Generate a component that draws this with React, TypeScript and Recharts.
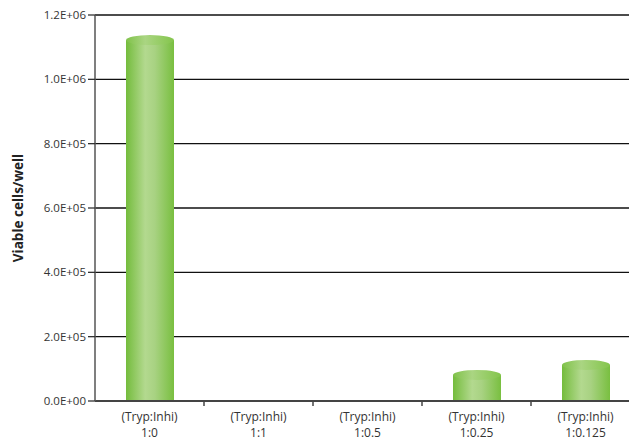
import { Bar, BarChart, CartesianGrid, XAxis, YAxis } from 'recharts';

const ratios = ['1:0', '1:1', '1:0.5', '1:0.25', '1:0.125'];
const prefix = '(Tryp:Inhi)';
const viableCells = [1122000, 0, 0, 81000, 112000];
const yTicks = [0, 200000, 400000, 600000, 800000, 1000000, 1200000];

const data = ratios.map((r, i) => ({ ratio: r, cells: viableCells[i] }));

const W = 645;
const H = 442;
const LEFT = 95;
const RIGHT = 5;
const band = (W - LEFT - RIGHT) / ratios.length;
const font = '"Open Sans", "Noto Sans", sans-serif';

const fmtSci = (v: number) => {
  const [m, e] = v.toExponential(1).split('e');
  const sign = e[0] === '-' ? '-' : '+';
  const digits = e.replace(/[+-]/, '').padStart(2, '0');
  return `${m}E${sign}${digits}`;
};

function Cylinder(props: any) {
  const { x, y, width, height } = props;
  if (!height || height <= 0) return null;
  const ry = 5;
  return (
    <g>
      <rect x={x} y={y} width={width} height={height} fill="url(#cylBody)" />
      <ellipse cx={x + width / 2} cy={y} rx={width / 2} ry={ry} fill="url(#cylTop)" />
    </g>
  );
}

// y here is the axis line itself (tickSize and tickMargin are 0)
function XTick(props: any) {
  const { x, y, payload } = props;
  return (
    <g>
      <line x1={x + band / 2} x2={x + band / 2} y1={y} y2={y + 5} stroke="#444" strokeWidth={1.5} />
      <text x={x} y={y + 20} textAnchor="middle" fontSize={12} fill="#333" fontFamily={font}>
        {prefix}
      </text>
      <text x={x} y={y + 36} textAnchor="middle" fontSize={12} fill="#333" fontFamily={font}>
        {payload.value}
      </text>
    </g>
  );
}

function YLabel(props: any) {
  const { viewBox } = props;
  const cy = viewBox.y + viewBox.height / 2;
  return (
    <text
      x={18}
      y={cy}
      transform={`rotate(-90, 18, ${cy})`}
      textAnchor="middle"
      dominantBaseline="central"
      fontSize={13.5}
      fontWeight="bold"
      fill="#222"
      fontFamily={font}
    >
      Viable cells/well
    </text>
  );
}

export default function App() {
  return (
    <div
      style={{
        position: 'fixed',
        top: 0,
        left: 0,
        width: 629,
        height: 442,
        overflow: 'hidden',
        background: '#fff',
      }}
    >
      <BarChart width={W} height={H} data={data} margin={{ top: 15, right: RIGHT, bottom: 0, left: 0 }}>
        <defs>
          <linearGradient id="cylBody" x1="0" y1="0" x2="1" y2="0">
            <stop offset="0%" stopColor="#74bc3c" />
            <stop offset="40%" stopColor="#b3d98f" />
            <stop offset="60%" stopColor="#a8d282" />
            <stop offset="100%" stopColor="#79bf40" />
          </linearGradient>
          <linearGradient id="cylTop" x1="0" y1="0" x2="1" y2="0">
            <stop offset="0%" stopColor="#80c24a" />
            <stop offset="40%" stopColor="#aad582" />
            <stop offset="100%" stopColor="#84c54c" />
          </linearGradient>
        </defs>
        <CartesianGrid horizontal vertical={false} stroke="#111" strokeWidth={1.4} />
        <XAxis
          dataKey="ratio"
          height={41}
          axisLine={{ stroke: '#444', strokeWidth: 2 }}
          tickLine={false}
          tickSize={0}
          tickMargin={0}
          tick={<XTick />}
          interval={0}
        />
        <YAxis
          width={LEFT}
          domain={[0, 1200000]}
          ticks={yTicks}
          tickFormatter={fmtSci}
          axisLine={{ stroke: '#555', strokeWidth: 1.5 }}
          tickLine={{ stroke: '#333', strokeWidth: 1.3 }}
          tickSize={7}
          tick={{ fontSize: 11.5, fill: '#333', fontFamily: font }}
          label={<YLabel />}
        />
        <Bar dataKey="cells" barSize={48} shape={<Cylinder />} isAnimationActive={false} />
      </BarChart>
    </div>
  );
}
